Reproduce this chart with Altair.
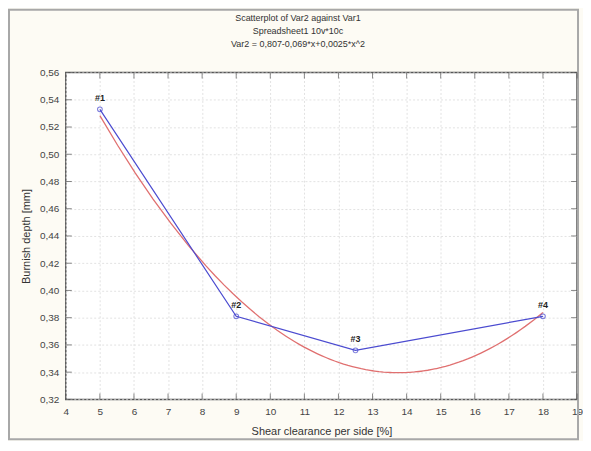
import altair as alt
import pandas as pd

# Data
x_vals = [5, 9, 12.5, 18]
y_vals = [0.533, 0.381, 0.356, 0.381]
point_labels = ["#1", "#2", "#3", "#4"]

x_ticks = [4, 5, 6, 7, 8, 9, 10, 11, 12, 13, 14, 15, 16, 17, 18, 19]
y_ticks = [0.32, 0.34, 0.36, 0.38, 0.40, 0.42, 0.44, 0.46, 0.48, 0.50, 0.52, 0.54, 0.56]

title_lines = [
    "Scatterplot of Var2 against Var1",
    "Spreadsheet1 10v*10c",
    "Var2 = 0,807-0,069*x+0,0025*x^2",
]

W, H = 513, 328
FONT = "Liberation Sans"

df = pd.DataFrame({"x": x_vals, "y": y_vals, "label": point_labels})
xt = pd.DataFrame({"x": x_ticks})
yt = pd.DataFrame({"y": y_ticks})
tdf = pd.DataFrame({"t": ["\n".join(title_lines)]})

xscale = alt.Scale(domain=[4, 19], nice=False, zero=False)
yscale = alt.Scale(domain=[0.32, 0.56], nice=False, zero=False)

xenc = alt.X(
    "x:Q", scale=xscale,
    axis=alt.Axis(values=x_ticks, format="d", title="Shear clearance per side [%]",
                  ticks=False, labelPadding=7, titlePadding=9, domain=False,
                  grid=True, labelOverlap=False, labelFlush=False),
)
yenc = alt.Y(
    "y:Q", scale=yscale,
    axis=alt.Axis(values=y_ticks,
                  labelExpr="replace(format(datum.value, '.2f'), '.', ',')",
                  title="Burnish depth [mm]", ticks=False, labelPadding=7,
                  titlePadding=8, domain=False, grid=True, labelOverlap=False,
                  labelFlush=False),
)

base = alt.Chart(df)

frame = alt.Chart(pd.DataFrame({"a": [0]})).mark_rect(
    filled=False, stroke="#a8a8a8", strokeWidth=2
).encode(
    x=alt.value(-57), x2=alt.value(514), y=alt.value(-63), y2=alt.value(368)
)

title = alt.Chart(tdf).mark_text(
    font=FONT, fontSize=9, color="#333333", baseline="top", align="center",
    lineBreak="\n", lineHeight=13,
).encode(text="t:N", x=alt.value(233), y=alt.value(-59))

fit = base.transform_regression("x", "y", method="poly", order=2).mark_line(
    color="#e07070", strokeWidth=1.3
).encode(x=xenc, y=yenc)

line = base.mark_line(color="#4b4bd0", strokeWidth=1.2).encode(x=xenc, y=yenc)

pts = base.mark_point(shape="circle", filled=False, color="#4b4bd0", size=22,
                      strokeWidth=1.1).encode(x=xenc, y=yenc)

labels = base.mark_text(font=FONT, fontSize=9, fontWeight="bold", color="#222222",
                        dy=-11).encode(x=xenc, y=yenc, text="label:N")

tick_col = "#555555"
xt_bottom = alt.Chart(xt).mark_tick(orient="vertical", color=tick_col, size=6,
                                    thickness=1).encode(x=xenc, y=alt.value(H - 3))
xt_top = alt.Chart(xt).mark_tick(orient="vertical", color=tick_col, size=6,
                                 thickness=1).encode(x=xenc, y=alt.value(3))
yt_left = alt.Chart(yt).mark_tick(orient="horizontal", color=tick_col, size=6,
                                  thickness=1).encode(y=yenc, x=alt.value(3))
yt_right = alt.Chart(yt).mark_tick(orient="horizontal", color=tick_col, size=6,
                                   thickness=1).encode(y=yenc, x=alt.value(W - 3))

chart = alt.layer(
    frame, title, fit, line, pts, labels, xt_bottom, xt_top, yt_left, yt_right
).properties(
    width=W, height=H,
    background="#fdfbf4",
    padding=0,
).configure_view(
    fill="white", stroke="#555555", strokeWidth=1.5
).configure_axis(
    labelFont=FONT, labelFontSize=10, labelColor="#444444",
    titleFont=FONT, titleFontSize=11, titleColor="#333333", titleFontWeight="normal",
    gridColor="#e2e2e2", gridDash=[2, 2], gridWidth=1,
)

chart.save("out.html", embed_options={"renderer": "svg", "actions": False})
